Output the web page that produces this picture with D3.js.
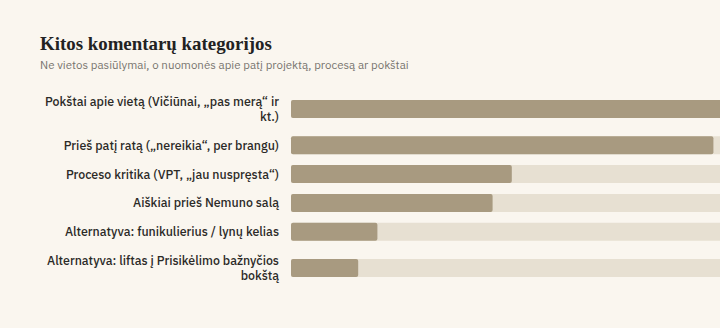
<!DOCTYPE html>
<html>
<head>
<meta charset="utf-8">
<script src="https://cdn.jsdelivr.net/npm/d3@7"></script>
<style>
  html, body { margin: 0; padding: 0; background: #faf6ef; overflow: hidden; }
  svg { display: block; }
</style>
</head>
<body>
<svg id="chart" width="720" height="328"></svg>
<script>
// chart data
const title = "Kitos komentarų kategorijos";
const subtitle = "Ne vietos pasiūlymai, o nuomonės apie patį projektą, procesą ar pokštai";
const categories = [
    "Pokštai apie vietą (Vičiūnai, „pas merą“ ir kt.)",
    "Prieš patį ratą („nereikia“, per brangu)",
    "Proceso kritika (VPT, „jau nuspręsta“)",
    "Aiškiai prieš Nemuno salą",
    "Alternatyva: funikulierius / lynų kelias",
    "Alternatyva: liftas į Prisikėlimo bažnyčios bokštą"
];
const values = [45, 44, 23, 21, 9, 7];

function drawBars(selector, margin = {top: 92.5, left: 40, labelRight: 279, barLeft: 291}){
    const svg = d3.select(selector);
    const labelFamily = "'IBM Plex Sans', Inter, Roboto, sans-serif";

    //title + subtitle
    svg.append("text")
        .attr("x", margin.left).attr("y", 50)
        .attr("fill", "#222")
        .style("font", "bold 20px 'Liberation Serif', Georgia, serif")
        .text(title)
        .call(fitWidth, 232);
    svg.append("text")
        .attr("x", margin.left).attr("y", 69)
        .attr("fill", "#77746e")
        .style("font", "12.5px " + labelFamily)
        .text(subtitle)
        .call(fitWidth, 369);

    //size label font so the reference's longest line is ~234px
    const measure = svg.append("text").style("font", "500 13px " + labelFamily);
    measure.text("Pokštai apie vietą (Vičiūnai, „pas merą“ ir");
    const labelSize = 13 * 234 / measure.node().getComputedTextLength();
    measure.style("font-size", labelSize + "px");

    //wrap labels into lines
    const maxW = 240;
    const lines = categories.map(c => {
        let out = [], cur = "";
        for(let w of c.split(" ")){
            let t = cur ? cur + " " + w : w;
            measure.text(t);
            if(measure.node().getComputedTextLength() > maxW && cur){
                out.push(cur); cur = w;
            } else cur = t;
        }
        out.push(cur);
        return out;
    });
    measure.remove();

    //row layout: height depends on number of label lines
    const lineH = 14.5, gap = 10.8;
    const rowH = lines.map(l => l.length > 1 ? l.length * 14 + 5 : 18);
    let centers = [], y0 = margin.top;
    rowH.forEach(h => { centers.push(y0 + h / 2); y0 += h + gap; });

    const x = d3.scaleLinear()
        .domain([0, d3.max(values)])
        .range([margin.barLeft, margin.barLeft + 432]);
    const barH = 18;

    const rows = svg.selectAll(".row")
        .data(values)
        .enter().append("g")
        .attr("class", "row");

    rows.append("rect")
        .attr("x", x(0))
        .attr("y", (d, i) => centers[i] - barH / 2)
        .attr("width", x.range()[1] - x(0))
        .attr("height", barH)
        .attr("rx", 2)
        .attr("fill", "#e7e0d2");

    rows.append("rect")
        .attr("x", x(0))
        .attr("y", (d, i) => centers[i] - barH / 2)
        .attr("width", d => x(d) - x(0))
        .attr("height", barH)
        .attr("rx", 2)
        .attr("fill", "#a89a80");

    rows.append("text")
        .attr("text-anchor", "end")
        .attr("fill", "#2b2a27")
        .style("font", "500 " + labelSize + "px " + labelFamily)
        .each(function(d, i){
            const n = lines[i].length;
            d3.select(this).selectAll("tspan")
                .data(lines[i])
                .enter().append("tspan")
                .attr("x", margin.labelRight)
                .attr("y", (l, j) => centers[i] + (j - (n - 1) / 2) * lineH + 4.5)
                .text(l => l);
        });
}

// scale font so the text spans the given width
function fitWidth(sel, target){
    const node = sel.node();
    const w = node.getComputedTextLength();
    const fs = parseFloat(getComputedStyle(node).fontSize);
    sel.style("font-size", (fs * target / w) + "px");
}

drawBars("#chart");
</script>
</body>
</html>
